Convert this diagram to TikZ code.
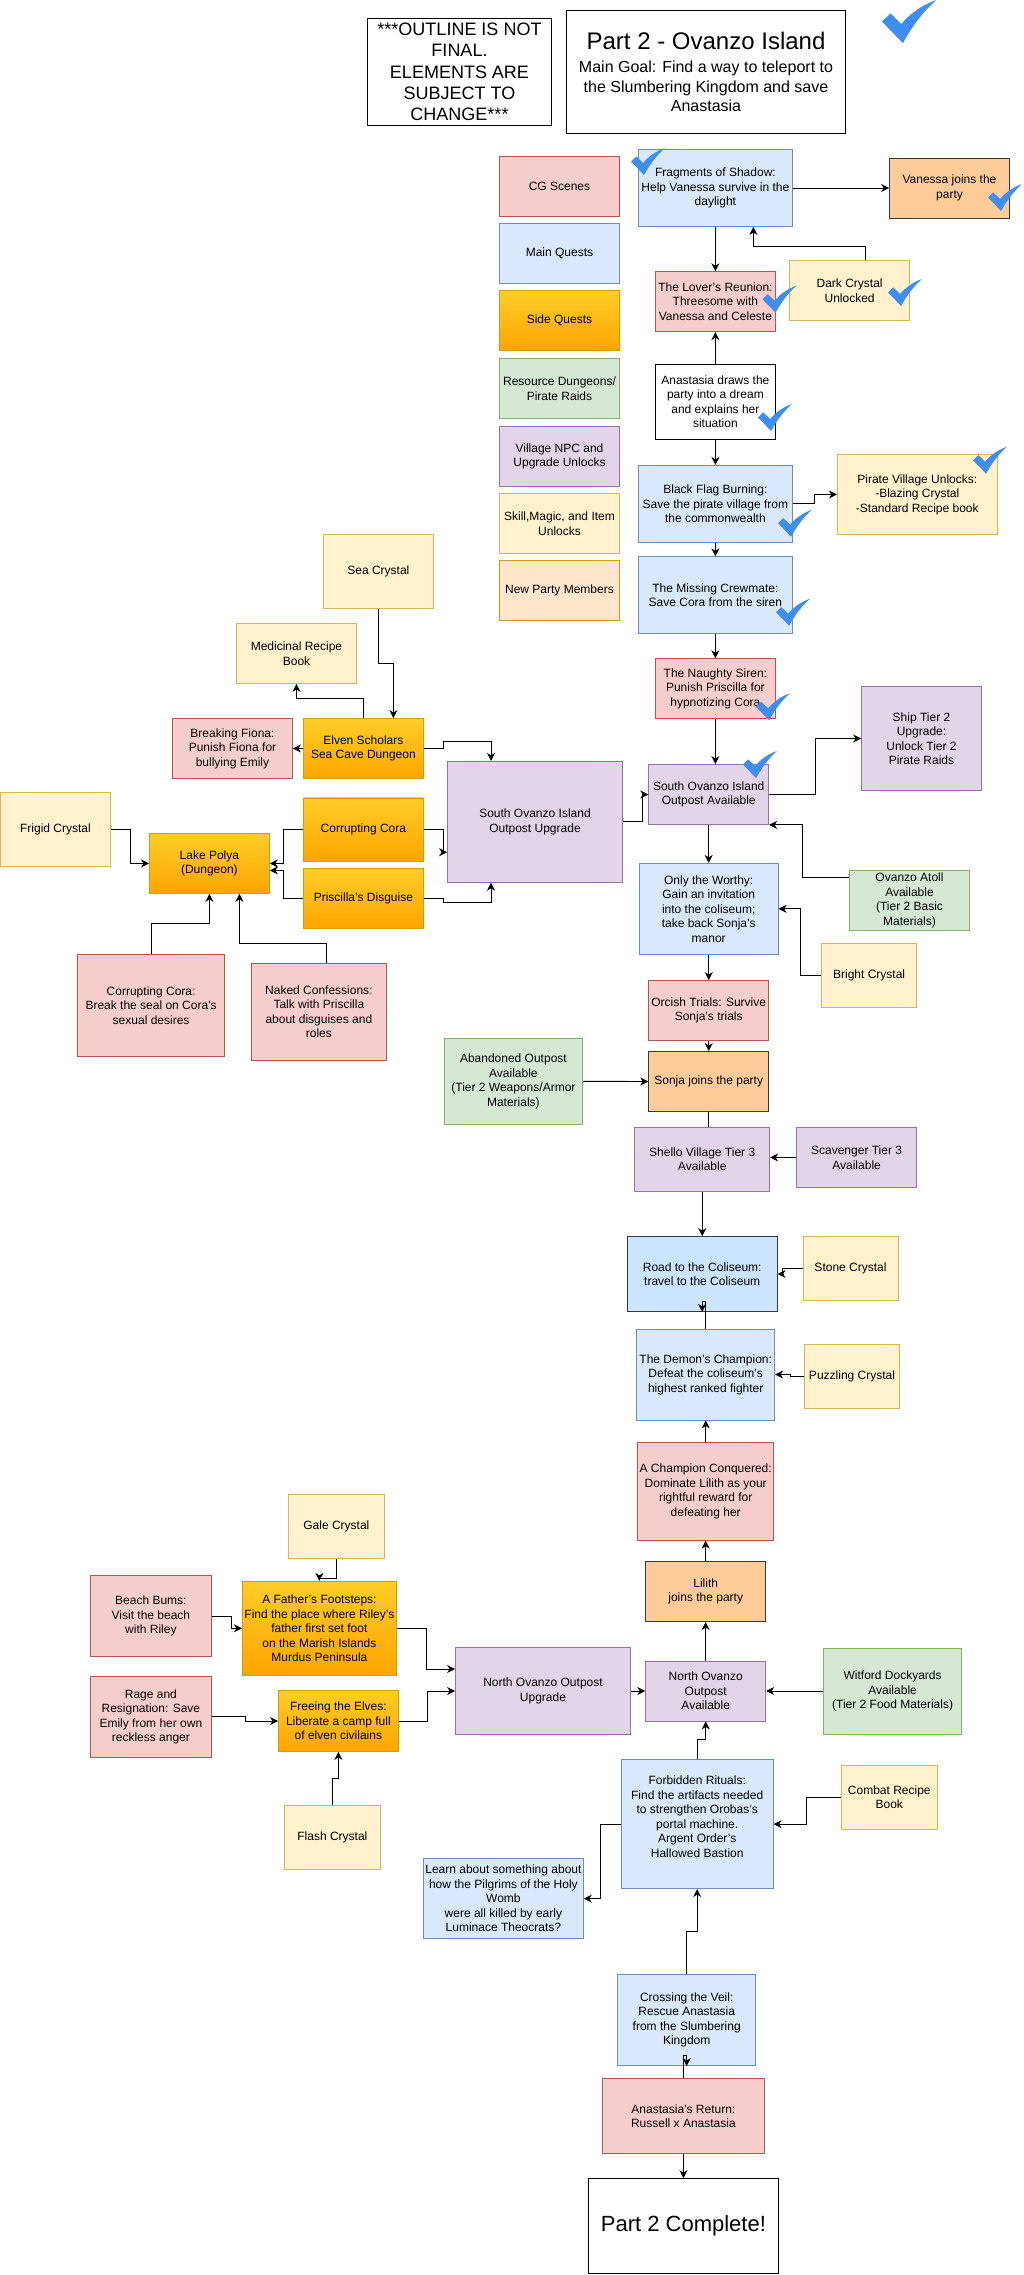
\documentclass[tikz,border=0pt]{standalone}
\usepackage{fontspec}
\setmainfont{Liberation Sans}
\usetikzlibrary{arrows.meta, positioning, calc}
\definecolor{cgfill}{HTML}{F8CECC}
\definecolor{cgline}{HTML}{B85450}
\definecolor{mainfill}{HTML}{DAE8FC}
\definecolor{mainline}{HTML}{6C8EBF}
\definecolor{sidetop}{HTML}{FFCD28}
\definecolor{sidebot}{HTML}{FFA500}
\definecolor{sideline}{HTML}{D79B00}
\definecolor{resfill}{HTML}{D5E8D4}
\definecolor{resline}{HTML}{82B366}
\definecolor{villfill}{HTML}{E1D5E7}
\definecolor{villline}{HTML}{9673A6}
\definecolor{itemfill}{HTML}{FFF2CC}
\definecolor{itemline}{HTML}{D6B656}
\definecolor{newfill}{HTML}{FFE6CC}
\definecolor{joinfill}{HTML}{FFCC99}
\definecolor{joinline}{HTML}{36393D}
\definecolor{roadfill}{HTML}{CCE5FF}
\definecolor{checkblue}{HTML}{3D8EF0}
\tikzset{
  qbox/.style={draw, line width=0.8pt, align=center, inner sep=0pt, minimum width=120pt, minimum height=60pt,
    font=\fontsize{12}{14.5}\selectfont},
  wh/.style 2 args={minimum width=#1pt, minimum height=#2pt},
  cgbox/.style={qbox, draw=cgline, fill=cgfill},
  mainbox/.style={qbox, draw=mainline, fill=mainfill},
  sidebox/.style={qbox, draw=sideline, top color=sidetop, bottom color=sidebot},
  resbox/.style={qbox, draw=resline, fill=resfill},
  villbox/.style={qbox, draw=villline, fill=villfill},
  itembox/.style={qbox, draw=itemline, fill=itemfill},
  newbox/.style={qbox, draw=sideline, fill=newfill},
  joinbox/.style={qbox, draw=joinline, fill=joinfill},
  plainbox/.style={qbox, draw=black, fill=white},
  arr/.style={-{Stealth[length=8pt, width=8pt, inset=2.5pt]}, line width=0.9pt},
  check/.pic={
    \fill[checkblue] (0,13.5) -- (5.3,8.4) -- (12.1,15) .. controls (17,9) and (25,3) .. (34,0)
      .. controls (26,7) and (19,16) .. (13.1,27) -- cycle;
  },
}
\begin{document}
\begin{tikzpicture}[x=1pt, y=-1pt]
    \useasboundingbox (0,0) rectangle (1023,2275);
    \node[plainbox, wh={184}{107}, font=\fontsize{18}{21.4}\selectfont] (outline) at (459.5,72)
      {***OUTLINE IS NOT\\FINAL.\\ELEMENTS ARE\\SUBJECT TO\\CHANGE***};
    \node[plainbox, wh={279}{123}, font=\fontsize{16}{19.5}\selectfont] (title) at (706,71.8)
      {{\fontsize{24}{29}\selectfont Part 2 - Ovanzo Island}\\[4pt]Main Goal: Find a way to teleport to\\the Slumbering Kingdom and save\\Anastasia};

    \node[cgbox] (keycg) at (559.5,186.5) {CG Scenes};
    \node[mainbox] (keymain) at (559.5,253.5) {Main Quests};
    \node[sidebox] (keyside) at (559.5,320.5) {Side Quests};
    \node[resbox] (keyres) at (559.5,388.5) {Resource Dungeons/\\Pirate Raids};
    \node[villbox] (keyvill) at (559.5,456.5) {Village NPC and\\Upgrade Unlocks};
    \node[itembox] (keyitem) at (559.5,523.5) {Skill,Magic, and Item\\Unlocks};
    \node[newbox] (keynew) at (559.5,590.5) {New Party Members};

    \node[mainbox, wh={154}{77}] (frag) at (715.4,188) {Fragments of Shadow:\\Help Vanessa survive in the\\daylight};
    \node[joinbox] (vanessa) at (949.5,188) {Vanessa joins the\\party};
    \node[cgbox] (lover) at (715.4,301.7) {The Lover's Reunion:\\Threesome with\\Vanessa and Celeste};
    \node[itembox] (dark) at (849.6,290.5) {Dark Crystal\\Unlocked};
    \node[plainbox, wh={120}{75}] (draws) at (715.4,401.8) {Anastasia draws the\\party into a dream\\and explains her\\situation};
    \node[mainbox, wh={154}{77}] (flag) at (715.4,503.8) {Black Flag Burning:\\Save the pirate village from\\the commonwealth};
    \node[itembox, wh={160}{80}] (pirate) at (917.3,494.5) {Pirate Village Unlocks:\\-Blazing Crystal\\-Standard Recipe book};
    \node[mainbox, wh={154}{77}] (crew) at (715.4,595.3) {The Missing Crewmate:\\Save Cora from the siren};
    \node[cgbox] (siren) at (715.4,688.7) {The Naughty Siren:\\Punish Priscilla for\\hypnotizing Cora};
    \node[villbox] (outpost) at (708.7,794.5) {South Ovanzo Island\\Outpost Available};
    \node[villbox, wh={120}{104}] (ship) at (921.5,738.5) {Ship Tier 2\\Upgrade:\\Unlock Tier 2\\Pirate Raids};
    \node[villbox, wh={175}{121}] (upgrade) at (535,821.8) {South Ovanzo Island\\Outpost Upgrade};

    \node[itembox, wh={110}{74}] (sea) at (378.4,571.4) {Sea Crystal};
    \node[itembox] (medicinal) at (296.5,653.5) {Medicinal Recipe\\Book};
    \node[sidebox] (elven) at (363.4,748.5) {Elven Scholars\\Sea Cave Dungeon};
    \node[cgbox] (fiona) at (232.5,748.5) {Breaking Fiona:\\Punish Fiona for\\bullying Emily};
    \node[sidebox, wh={120}{63}] (ccora) at (363.4,829.4) {Corrupting Cora};
    \node[sidebox] (prisc) at (363.4,898.6) {Priscilla's Disguise};
    \node[sidebox] (lake) at (209.4,863.4) {Lake Polya\\(Dungeon)};
    \node[itembox, wh={110}{74}] (frigid) at (55.5,829.2) {Frigid Crystal};
    \node[cgbox, wh={147}{102}] (rcora) at (151.1,1005.2) {Corrupting Cora:\\Break the seal on Cora's\\sexual desires};
    \node[cgbox, wh={135}{97}] (naked) at (318.9,1011.8) {Naked Confessions:\\Talk with Priscilla\\about disguises and\\roles};

    \node[mainbox, wh={139}{91}] (worthy) at (708.7,908.8) {Only the Worthy:\\Gain an invitation\\into the coliseum;\\take back Sonja's\\manor};
    \node[resbox] (atoll) at (909.5,900.3) {Ovanzo Atoll\\Available\\(Tier 2 Basic\\Materials)};
    \node[itembox, wh={95}{64}] (bright) at (869.1,975.4) {Bright Crystal};
    \node[cgbox] (orcish) at (708.7,1010.5) {Orcish Trials: Survive\\Sonja's trials};
    \node[joinbox] (sonja) at (708.7,1081.5) {Sonja joins the party};
    \node[resbox, wh={138}{86}] (abandoned) at (513.4,1081.3) {Abandoned Outpost\\Available\\(Tier 2 Weapons/Armor\\Materials)};
    \node[villbox, wh={135}{64}] (shello) at (702.2,1159.4) {Shello Village Tier 3\\Available};
    \node[villbox] (scav) at (856.6,1157.5) {Scavenger Tier 3\\Available};
    \node[qbox, draw=joinline, fill=roadfill, wh={150}{75}] (road) at (702.2,1274) {Road to the Coliseum:\\travel to the Coliseum};
    \node[itembox, wh={95}{64}] (stone) at (850.5,1268.6) {Stone Crystal};
    \node[mainbox, wh={138}{91}] (demon) at (705.7,1374.5) {The Demon's Champion:\\Defeat the coliseum's\\highest ranked fighter};
    \node[itembox, wh={95}{64}] (puzzling) at (852,1376.5) {Puzzling Crystal};
    \node[cgbox, wh={136}{97.5}] (champion) at (705.7,1491.4) {A Champion Conquered:\\Dominate Lilith as your\\rightful reward for\\defeating her};
    \node[joinbox] (lilith) at (705.7,1591.6) {Lilith\\joins the party};
    \node[villbox] (navail) at (705.7,1691) {North Ovanzo\\Outpost\\Available};
    \node[villbox, wh={175}{87}] (nupg) at (543,1691) {North Ovanzo Outpost\\Upgrade};
    \node[resbox, wh={138}{86}] (witford) at (892.6,1691) {Witford Dockyards\\Available\\(Tier 2 Food Materials)};
    \node[mainbox, wh={152}{129}] (forbidden) at (697.2,1824.1) {Forbidden Rituals:\\Find the artifacts needed\\to strengthen Orobas's\\portal machine.\\Argent Order's\\Hallowed Bastion\\\mbox{}};
    \node[itembox, wh={96}{64}] (combat) at (889.3,1797.1) {Combat Recipe\\Book};
    \node[mainbox, wh={160}{80}] (learn) at (503.4,1898.6) {Learn about something about\\how the Pilgrims of the Holy\\Womb\\were all killed by early\\Luminace Theocrats?};
    \node[mainbox, wh={138}{91}] (crossing) at (686.7,2020.1) {Crossing the Veil:\\Rescue Anastasia\\from the Slumbering\\Kingdom};
    \node[cgbox, wh={162}{75}] (ret) at (683.4,2116.2) {Anastasia's Return:\\Russell x Anastasia};
    \node[plainbox, wh={190}{95}, font=\fontsize{22}{26}\selectfont] (complete) at (683.4,2226.1) {Part 2 Complete!};

    \node[itembox, wh={96}{64}] (gale) at (336.4,1526.6) {Gale Crystal};
    \node[cgbox, wh={121}{81}] (beach) at (150.9,1616) {Beach Bums:\\Visit the beach\\with Riley};
    \node[sidebox, wh={154}{94}] (father) at (319.4,1628.3) {A Father's Footsteps:\\Find the place where Riley's\\father first set foot\\on the Marish Islands\\Murdus Peninsula};
    \node[cgbox, wh={121}{81}] (rage) at (150.9,1716.9) {Rage and\\Resignation: Save\\Emily from her own\\reckless anger};
    \node[sidebox, wh={120}{61}] (freeing) at (338.4,1721) {Freeing the Elves:\\Liberate a camp full\\of elven civilains};
    \node[itembox, wh={96}{64}] (flash) at (332.4,1837.5) {Flash Crystal};

    \draw[arr] (frag.south) -- (lover.north);
    \draw[arr] (frag.east) -- (vanessa.west);
    \draw[arr] ($(dark.north)+(16,0)$) -- ++(0,-13.6) -| ($(frag.south)+(38,0)$);
    \draw[arr] (draws.north) -- (lover.south);
    \draw[arr] (draws.south) -- (flag.north);
    \draw[arr] (flag.south) -- (crew.north);
    \draw[arr] (flag.east) -- ++(22,0) |- (pirate.west);
    \draw[arr] (crew.south) -- (siren.north);
    \draw[arr] (siren.south) -- (siren.south |- outpost.north);
    \draw[arr] (outpost.east) -- ++(46,0) |- (ship.west);
    \draw[arr] (outpost.south) -- (worthy.north);
    \draw[arr] ($(atoll.west)+(0,-22.7)$) -- ++(-46.5,0) |- (outpost.south east);
    \draw[arr] (upgrade.east) -- ++(20,0) |- (outpost.west);

    \draw[arr] (sea.south) -- ++(0,55) -| ($(elven.north)+(30,0)$);
    \draw[arr] (elven.north) -- ++(0,-20) -| (medicinal.south);
    \draw[arr] (elven.west) -- (fiona.east);
    \draw[arr] (elven.east) -- ++(20,0) -- ++(0,-7) -| ($(upgrade.north)+(-44,0)$);
    \draw[arr] (ccora.east) -- ++(20,0) |- ($(upgrade.west)+(0,30.4)$);
    \draw[arr] (ccora.west) -- ++(-19.7,0) |- (lake.east);
    \draw[arr] (prisc.west) -- ++(-19.7,0) |- ($(lake.east)+(0,7)$);
    \draw[arr] (prisc.east) -- ++(20,0) -- ++(0,3.8) -| ($(upgrade.south)+(-44,0)$);
    \draw[arr] (frigid.east) -- ++(20,0) |- (lake.west);
    \draw[arr] (rcora.north) -- ++(0,-30.5) -| (lake.south);
    \draw[arr] ($(naked.north)+(7.3,0)$) -- ++(0,-19) -| ($(lake.south)+(30,0)$);

    \draw[arr] (worthy.south) -- (orcish.north);
    \draw[arr] (orcish.south) -- (sonja.north);
    \draw[arr] (abandoned.east) -- (sonja.west);
    \draw[line width=0.9pt] (sonja.south) -- (sonja.south |- shello.north);
    \draw[arr] (scav.west) -- (scav.west -| shello.east);
    \draw[arr] (shello.south) -- (road.north);
    \draw[arr] (demon.north) -- ++(0,-27) -| (road.south);
    \draw[arr] (stone.west) -- ++(-20,0) |- (road.east);
    \draw[arr] (puzzling.west) -- ++(-14,0) |- (demon.east);
    \draw[arr] (bright.west) -- ++(-20.5,0) |- (worthy.east);
    \draw[arr] (champion.north) -- (demon.south);
    \draw[arr] (lilith.north) -- (champion.south);
    \draw[arr] (navail.north) -- (lilith.south);
    \draw[arr] (nupg.east) -- (navail.west);
    \draw[arr] (witford.west) -- (navail.east);
    \draw[arr] (forbidden.north) -- ++(0,-19.7) -| (navail.south);
    \draw[arr] (combat.west) -- ++(-34,0) |- (forbidden.east);
    \draw[arr] (forbidden.west) -- ++(-19.9,0) |- (learn.east);
    \draw[arr] (crossing.north) -- ++(0,-43) -| (forbidden.south);
    \draw[arr] (ret.north) -- ++(0,-23) -| (crossing.south);
    \draw[arr] (ret.south) -- (complete.north);

    \draw[arr] (gale.south) -- ++(0,19.9) -| (father.north);
    \draw[arr] (beach.east) -- ++(19.8,0) |- (father.west);
    \draw[arr] (father.east) -- ++(29.6,0) |- ($(nupg.west)+(0,-22)$);
    \draw[arr] (rage.east) -- ++(33.6,0) |- (freeing.west);
    \draw[arr] (freeing.east) -- ++(28.9,0) |- (nupg.west);
    \draw[arr] (flash.north) -- ++(0,-27) -| (freeing.south);

    \pic[scale=1.6] at (882,0) {check};
    \pic at (631,148) {check};
    \pic at (988,184) {check};
    \pic at (762.5,285.7) {check};
    \pic at (888,279) {check};
    \pic at (758,404) {check};
    \pic at (778,509.7) {check};
    \pic at (973,446.7) {check};
    \pic at (776,598.7) {check};
    \pic at (756,693.3) {check};
    \pic at (743,751) {check};
  \end{tikzpicture}
\end{document}
